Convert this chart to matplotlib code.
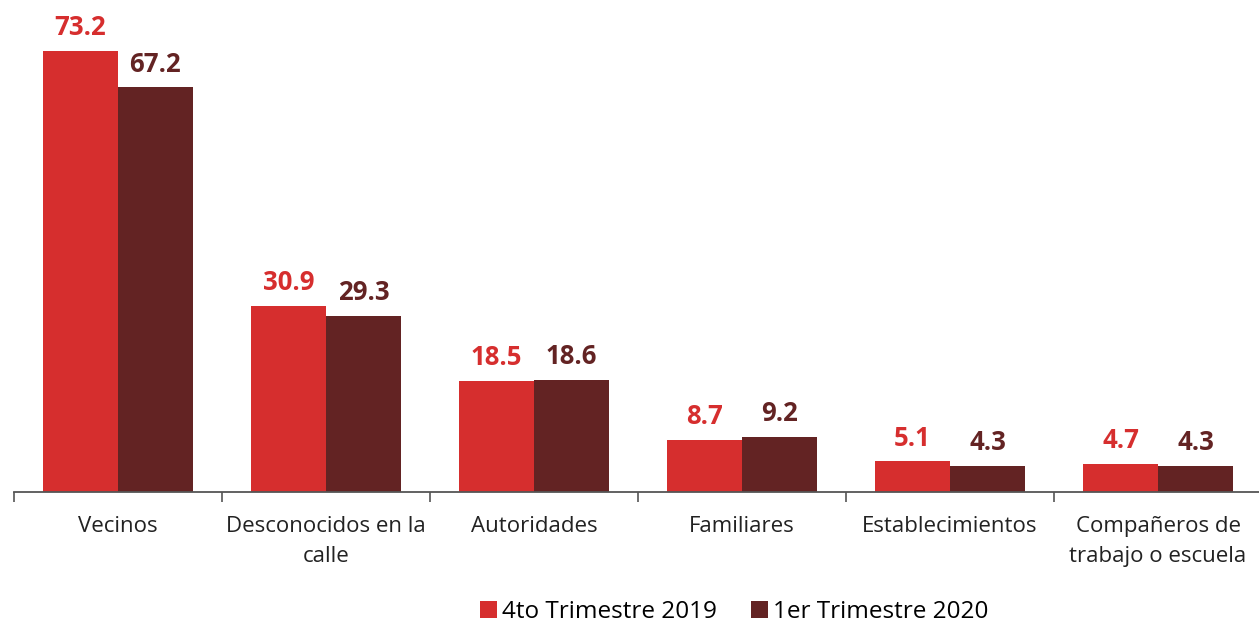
import numpy as np
import matplotlib
matplotlib.use("Agg")
import matplotlib.pyplot as plt

# datos
categorias = ['Vecinos', 'Desconocidos en la\ncalle', 'Autoridades', 'Familiares',
              'Establecimientos', 'Compañeros de\ntrabajo o escuela']
trim_2019 = [73.2, 30.9, 18.5, 8.7, 5.1, 4.7]
trim_2020 = [67.2, 29.3, 18.6, 9.2, 4.3, 4.3]
series = ['4to Trimestre 2019', '1er Trimestre 2020']

rojo = '#D62E2E'
vino = '#632323'

plt.rcParams['font.family'] = ['Open Sans', 'DejaVu Sans']

fig = plt.figure(figsize=(12.59, 6.23), dpi=100)
ax = fig.add_axes([14/1259, 131/623, 1248/1259, 492/623])

x = np.arange(len(categorias))
w = 0.36
b1 = ax.bar(x - w/2, trim_2019, w, color=rojo, label=series[0])
b2 = ax.bar(x + w/2, trim_2020, w, color=vino, label=series[1])

for bars, vals, col in [(b1, trim_2019, rojo), (b2, trim_2020, vino)]:
    for r, v in zip(bars, vals):
        ax.annotate(f'{v:.1f}', (r.get_x() + r.get_width()/2, v),
                    xytext=(0, 7), textcoords='offset points',
                    ha='center', va='bottom', fontsize=18.5, fontweight='bold', color=col)

ax.set_xlim(-0.5, 5.5)
ax.set_ylim(0, 81.7)
ax.set_xticks(x)
ax.set_xticklabels(categorias, fontsize=16, color='#222222', linespacing=1.6, va='top')
ax.tick_params(axis='x', which='major', length=0, pad=17)
ax.set_xticks(np.arange(-0.5, 6.0, 1.0), minor=True)
ax.tick_params(axis='x', which='minor', length=7, width=1.2, color='#555555')
ax.set_yticks([])
for s in ['top', 'right', 'left']:
    ax.spines[s].set_visible(False)
ax.spines['bottom'].set_color('#555555')
ax.spines['bottom'].set_linewidth(1.3)
ax.patch.set_alpha(0)

fig.legend(loc='center', bbox_to_anchor=(734/1259, 1 - 612/623), ncol=2, frameon=False,
           fontsize=17.5, handlelength=0.72, handleheight=0.72, handletextpad=0.2,
           columnspacing=1.4)

fig.savefig('out.png', dpi=100)
